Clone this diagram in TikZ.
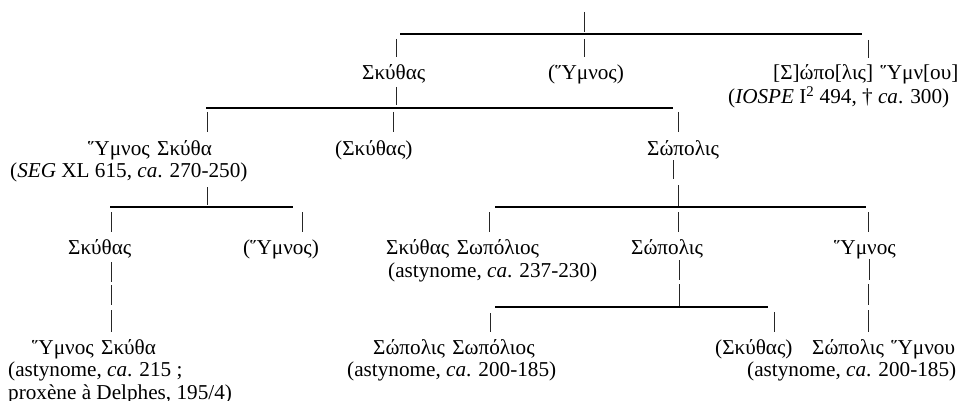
\documentclass[tikz,border=0pt]{standalone}
\usepackage{fontspec}
\setmainfont{Liberation Serif}
\newcommand\fsz{\fontsize{21.2}{23}\selectfont}
\tikzset{
  txt/.style={anchor=base west, inner sep=0pt, font=\fsz},
  tickline/.style={line width=0.9pt, draw=black!85},
  hline/.style={line width=1.2pt, draw=black}
}
\begin{document}
\begin{tikzpicture}[x=1pt,y=-1pt]
\useasboundingbox (0,0) rectangle (961,401);
% ---------- row A
\node[txt] (skA) at (362,80) {Σκύθας};
\node[txt] (hyA) at (548,80) {(Ὕμνος)};
\node[txt] (soA) at (773,80) {[Σ]ώπο[λις]\hspace{0.35em}Ὕμν[ου]};
\node[txt] (soA2) at (728,104) {(\textit{IOSPE} I\textsuperscript{2} 494, † \textit{ca}. 300)};
% ---------- row B
\node[txt] (hyB) at (88,155) {Ὕμνος\hspace{0.35em}Σκύθα};
\node[txt] (hyB2) at (10,178) {(\textit{SEG} XL 615, \textit{ca}. 270-250)};
\node[txt] (skB) at (335,155) {(Σκύθας)};
\node[txt] (soB) at (647,155) {Σώπολις};
% ---------- row C
\node[txt] (skC) at (68,254) {Σκύθας};
\node[txt] (hyC) at (243,254) {(Ὕμνος)};
\node[txt] (ssC) at (386,254) {Σκύθας\hspace{0.35em}Σωπόλιος};
\node[txt] (ssC2) at (388,277) {(astynome, \textit{ca}. 237-230)};
\node[txt] (soC) at (631,254) {Σώπολις};
\node[txt] (hyC2) at (834,254) {Ὕμνος};
% ---------- row D
\node[txt] (hyD) at (32,354) {Ὕμνος\hspace{0.35em}Σκύθα};
\node[txt] (hyD2) at (8,376) {(astynome, \textit{ca}. 215 ;};
\node[txt] (hyD3) at (8,399) {proxène à Delphes, 195/4)};
\node[txt] (ssD) at (373,354) {Σώπολις\hspace{0.35em}Σωπόλιος};
\node[txt] (ssD2) at (347,376) {(astynome, \textit{ca}. 200-185)};
\node[txt] (skD) at (715,354) {(Σκύθας)};
\node[txt] (shD) at (812,354) {Σώπολις\hspace{0.35em}Ὕμνου};
\node[txt] (shD2) at (747,376) {(astynome, \textit{ca}. 200-185)};
% ---------- level 1
\draw[tickline] (584,12) -- (584,32);
\draw[hline] (400,34) -- (862,34);
\draw[tickline] (396,39) -- (396,57);
\draw[tickline] (584,39) -- (584,57);
\draw[tickline] (868,40) -- (868,58);
% ---------- level 2
\draw[tickline] (396,87) -- (396,105);
\draw[hline] (206,108) -- (673,108);
\draw[tickline] (207,112) -- (207,132);
\draw[tickline] (393,112) -- (393,132);
\draw[tickline] (678,112) -- (678,132);
% ---------- level 3
\draw[tickline] (207,187) -- (207,205);
\draw[hline] (110,207) -- (293,207);
\draw[tickline] (111,212) -- (111,232);
\draw[tickline] (302,212) -- (302,232);
\draw[tickline] (673,160) -- (673,179);
\draw[tickline] (678,185) -- (678,206);
\draw[hline] (495,207) -- (866,207);
\draw[tickline] (489,212) -- (489,232);
\draw[tickline] (678,212) -- (678,232);
\draw[tickline] (868,212) -- (868,232);
% ---------- level 4
\draw[tickline] (111,262) -- (111,282);
\draw[tickline] (111,285) -- (111,305);
\draw[tickline] (111,310) -- (111,332);
\draw[tickline] (679,260) -- (679,280);
\draw[tickline] (679,284) -- (679,306);
\draw[hline] (495,307) -- (768,307);
\draw[tickline] (490,313) -- (490,332);
\draw[tickline] (774,312) -- (774,332);
\draw[tickline] (869,259) -- (869,280);
\draw[tickline] (868,284) -- (868,305);
\draw[tickline] (868,310) -- (868,332);
\end{tikzpicture}
\end{document}
